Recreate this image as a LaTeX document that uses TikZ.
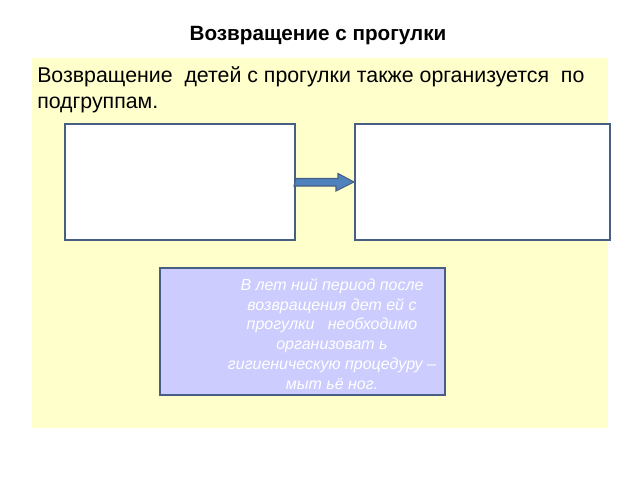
\documentclass[tikz,border=0pt]{standalone}
\usepackage{fontspec}
\setmainfont{Liberation Sans}
\definecolor{panel}{RGB}{255,255,204}
\definecolor{edge}{RGB}{70,95,130}
\definecolor{lilac}{RGB}{204,204,255}
\definecolor{arrowblue}{RGB}{79,129,189}
\tikzset{
  wbox/.style={draw=edge,line width=1.5pt,fill=white},
}
\begin{document}
\begin{tikzpicture}[x=0.75pt,y=-0.75pt]
\useasboundingbox (0,0) rectangle (640,480);
\fill[white] (0,0) rectangle (640,480);
\node[font=\fontsize{15.5}{18}\selectfont\bfseries] (title) at (318,36) {Возвращение с прогулки};
\fill[panel] (32,58) rectangle (608,428);
\node[anchor=north west,inner sep=0pt,align=left,font=\fontsize{16}{19.5}\selectfont] (txt) at (37,66) {Возвращение\ \ детей с прогулки также организуется\ \ по\\подгруппам.};
\node[wbox,minimum width=230*0.75pt,minimum height=116*0.75pt,inner sep=0pt] (lb) at (180,182) {};
\node[wbox,minimum width=255*0.75pt,minimum height=116*0.75pt,inner sep=0pt] (rb) at (482.5,182) {};
\draw[edge,line width=0.8pt,fill=arrowblue]
  (lb.east)++(0,-3.5) -- ++(42,0) -- ++(0,-5) -- (rb.west) -- ++(-18,9) -- ++(0,-5) -- ++(-42,0) -- cycle;
\draw[draw=edge,line width=1.5pt,fill=lilac] (160,268) rectangle (445,395);
\node[align=center,text=white,font=\itshape\fontsize{12}{14.8}\selectfont] (note) at (332,334) {В лет ний период после\\возвращения\ дет ей с\\прогулки\ \ \ необходимо\\организоват ь\\гигиеническую процедуру –\\мыт ьё ног.};
\end{tikzpicture}
\end{document}
